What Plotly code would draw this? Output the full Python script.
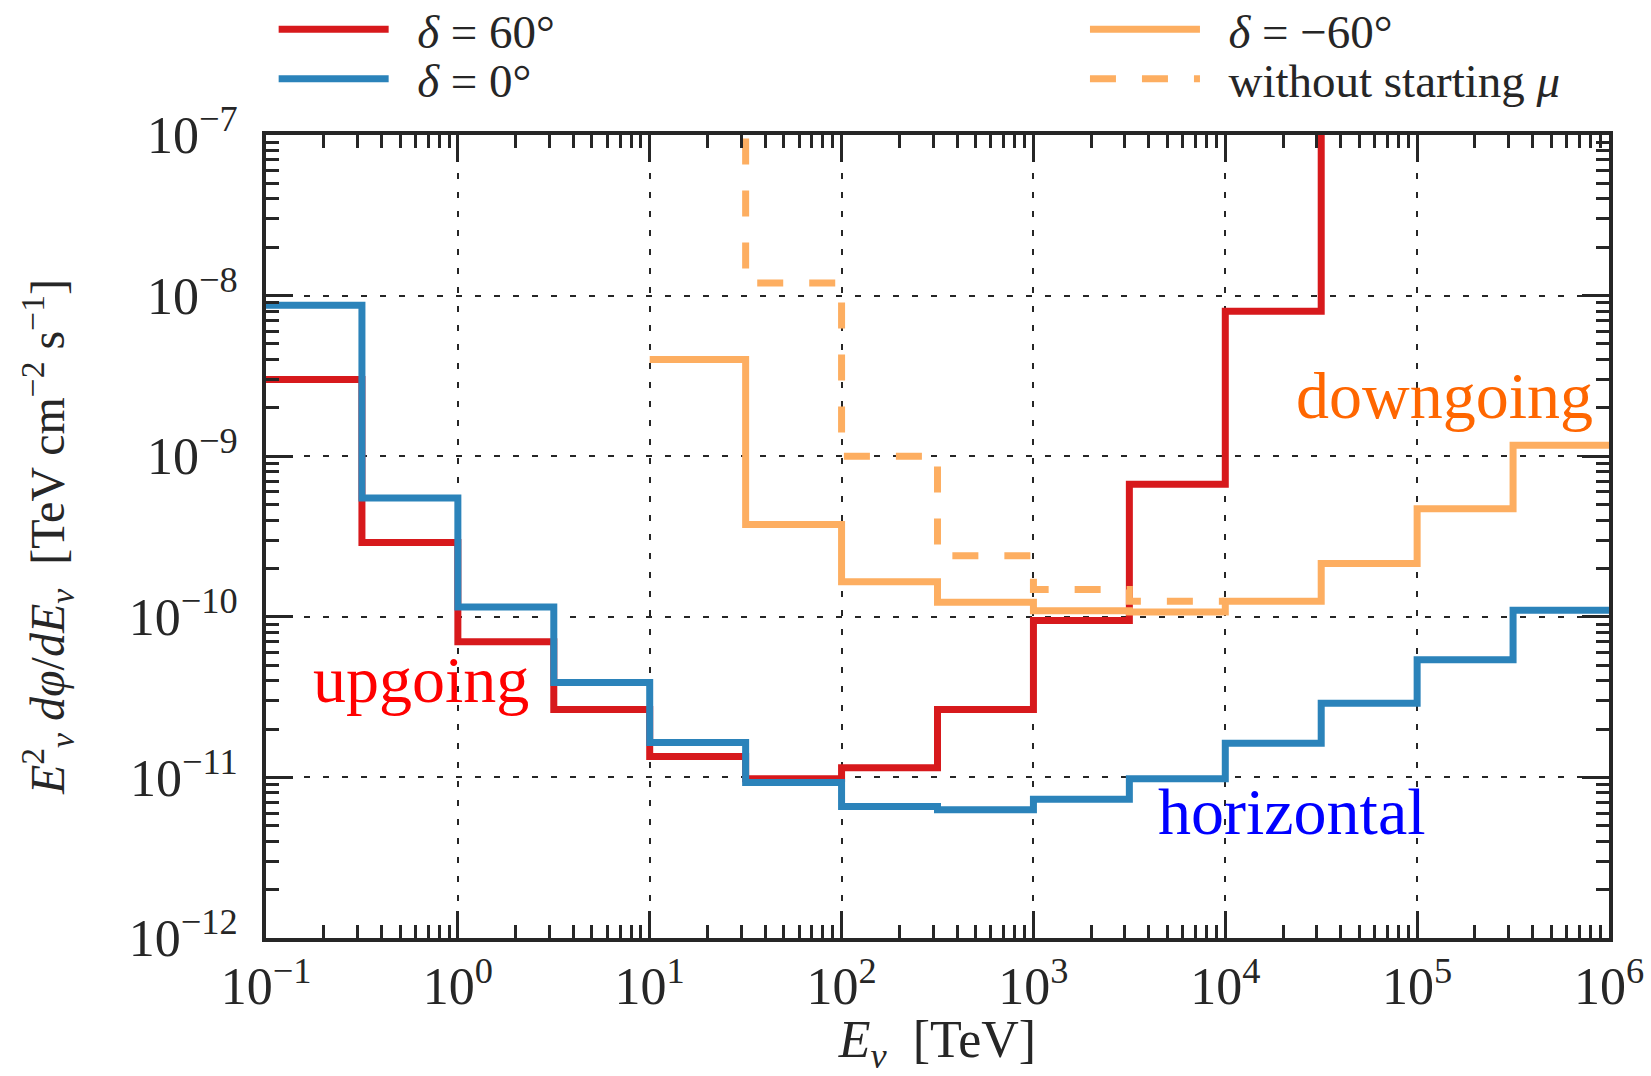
import plotly.graph_objects as go

# ---- data ----
log_edges = [-1.0, -0.5, 0.0, 0.5, 1.0, 1.5, 2.0, 2.5, 3.0, 3.5, 4.0, 4.5, 5.0, 5.5, 6.0]

red_vals = [3.0e-9, 2.9e-10, 7.0e-11, 2.65e-11, 1.35e-11, 9.8e-12, 1.15e-11,
            2.65e-11, 9.5e-11, 6.7e-10, 8.0e-9, 1e-5, 1e-5, 1e-5]
blue_vals = [8.7e-9, 5.5e-10, 1.15e-10, 3.9e-11, 1.65e-11, 9.3e-12, 6.6e-12,
             6.3e-12, 7.3e-12, 9.8e-12, 1.63e-11, 2.9e-11, 5.4e-11, 1.1e-10]
orange_vals = [None, None, None, None, 4.0e-9, 3.75e-10, 1.65e-10, 1.23e-10,
               1.09e-10, 1.07e-10, 1.25e-10, 2.15e-10, 4.7e-10, 1.17e-9]
dashed_vals = [None, None, None, None, 1e-6, 1.2e-8, 1.0e-9, 2.4e-10,
               1.48e-10, 1.25e-10, None, None, None, None]

x_tick_exp = [-1, 0, 1, 2, 3, 4, 5, 6]
y_tick_exp = [-12, -11, -10, -9, -8, -7]

names = ["<i>δ</i> = 60°", "<i>δ</i> = 0°", "<i>δ</i> = −60°", "without starting <i>μ</i>"]
colors = ["#d7191c", "#2b83ba", "#fdae61", "#fdae61"]


def step_xy(vals):
    idx = [i for i, v in enumerate(vals) if v is not None]
    xs = [10 ** log_edges[i] for i in idx] + [10 ** log_edges[idx[-1] + 1]]
    ys = [vals[i] for i in idx] + [vals[idx[-1]]]
    return xs, ys


def sup(e):
    s = str(e).replace("-", "−")
    return "10<sup>" + s + "</sup>"


FONT = "Liberation Serif"
AX = "#262626"

fig = go.Figure()
series = [red_vals, blue_vals, orange_vals, dashed_vals]
dashes = ["solid", "solid", "solid", "26px,26px"]
legend_ids = ["legend", "legend2", "legend3", "legend4"]
for vals, name, col, dash, lg in zip(series, names, colors, dashes, legend_ids):
    xs, ys = step_xy(vals)
    fig.add_trace(go.Scatter(x=xs, y=ys, mode="lines", name="\u00a0\u00a0" + name,
                             line=dict(color=col, width=7, shape="hv", dash=dash),
                             legend=lg, showlegend=True))

common = dict(showline=True, linewidth=4, linecolor=AX, mirror="ticks",
              ticks="inside", ticklen=27, tickwidth=3, tickcolor=AX,
              showgrid=True, gridcolor=AX, gridwidth=2, griddash="6px,13px",
              zeroline=False, layer="above traces",
              tickfont=dict(family=FONT, size=52, color=AX),
              minor=dict(ticks="inside", ticklen=13, tickwidth=2.5, tickcolor=AX,
                         dtick="D1", showgrid=False))

fig.update_xaxes(type="log", range=[-1, 6],
                 tickvals=[10 ** e for e in x_tick_exp],
                 ticktext=[sup(e) for e in x_tick_exp],
                 ticklabelstandoff=0,
                 title=dict(text="<i>E</i><sub><i>ν</i></sub>  [TeV]",
                            font=dict(family=FONT, size=52, color=AX), standoff=34),
                 **common)
fig.update_yaxes(type="log", range=[-12, -7],
                 tickvals=[10 ** e for e in y_tick_exp],
                 ticktext=[sup(e) for e in y_tick_exp],
                 ticklabelstandoff=14,
                 title=dict(text="<i>E</i><sup>2</sup><sub><i>ν</i></sub> <i>dφ</i>/<i>dE</i><sub><i>ν</i></sub>  [TeV cm<sup>−2</sup> s<sup>−1</sup>]",
                            font=dict(family=FONT, size=48, color=AX), standoff=50),
                 **common)

fig.add_annotation(x=-0.193, y=-10.39, text="upgoing", showarrow=False,
                   font=dict(family=FONT, size=66, color="#ff0000"))
fig.add_annotation(x=4.346, y=-11.214, text="horizontal", showarrow=False,
                   font=dict(family=FONT, size=66, color="#0000ff"))
fig.add_annotation(x=5.142, y=-8.625, text="downgoing", showarrow=False,
                   font=dict(family=FONT, size=66, color="#ff6600"))

leg_common = dict(orientation="v", xanchor="left", yanchor="middle", itemwidth=110,
                  font=dict(family=FONT, size=47, color=AX), bgcolor="rgba(0,0,0,0)",
                  borderwidth=0)
fig.update_layout(
    width=1651, height=1076,
    showlegend=True,
    margin=dict(l=266, r=42, t=135, b=138, autoexpand=False),
    paper_bgcolor="white", plot_bgcolor="white",
    legend=dict(x=0.0057, y=1.1311, **leg_common),
    legend2=dict(x=0.0057, y=1.0695, **leg_common),
    legend3=dict(x=0.6098, y=1.1311, **leg_common),
    legend4=dict(x=0.6098, y=1.0695, **leg_common),
)

fig.write_html("out.html")
